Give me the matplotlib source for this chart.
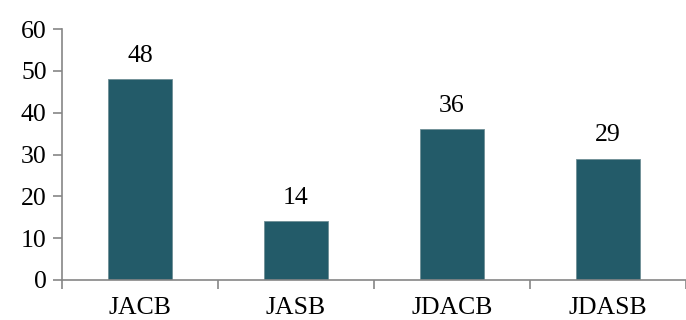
import matplotlib
matplotlib.use("Agg")
import matplotlib.pyplot as plt

categories = ["JACB", "JASB", "JDACB", "JDASB"]
values = [48, 14, 36, 29]
y_ticks = [0, 10, 20, 30, 40, 50, 60]

plt.rcParams["font.family"] = ["Liberation Serif", "DejaVu Serif"]

fig = plt.figure(figsize=(6.86, 3.2), dpi=100)
ax = fig.add_axes([62 / 686, 40 / 320, 624 / 686, 251 / 320])

bar_color = "#235b69"
axis_color = "#868686"
font_size = 18.5

x = list(range(len(categories)))
ax.bar(x, values, width=0.41, color=bar_color, edgecolor="#6f8f96", linewidth=0.6)

for xi, v in zip(x, values):
    ax.annotate(str(v), (xi, v), xytext=(0, 9), textcoords="offset points",
                ha="center", va="bottom", fontsize=font_size, color="black")

ax.set_ylim(0, 60)
ax.set_yticks(y_ticks)
ax.set_yticklabels([str(t) for t in y_ticks])
ax.set_xlim(-0.5, -0.5 + 624 / 158.5)

# category labels at bar centres, tick marks at category boundaries
ax.set_xticks(x)
ax.set_xticklabels(categories)
ax.set_xticks([i - 0.5 for i in range(len(categories) + 1)], minor=True)
ax.tick_params(axis="x", which="major", length=0, pad=12.3, labelsize=font_size)
ax.tick_params(axis="x", which="minor", length=6.5, width=1.2, color=axis_color, direction="out")
ax.tick_params(axis="y", length=6.5, width=1.2, color=axis_color, direction="out", pad=4.5,
               labelsize=font_size)

for side in ["top", "right"]:
    ax.spines[side].set_visible(False)
for side in ["left", "bottom"]:
    ax.spines[side].set_color(axis_color)
    ax.spines[side].set_linewidth(1.2)

fig.savefig("out.png", dpi=100)
